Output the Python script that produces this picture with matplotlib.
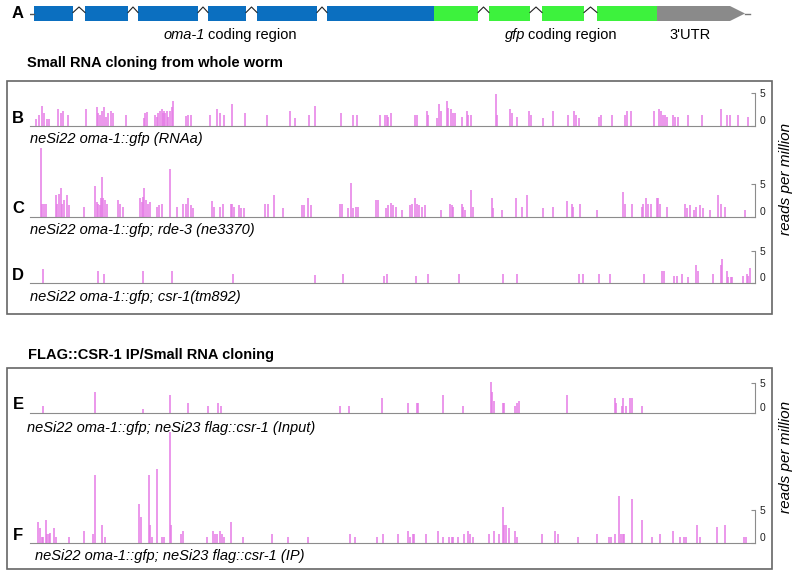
import numpy as np
import matplotlib
matplotlib.use('Agg')
import matplotlib.pyplot as plt
from matplotlib.patches import Rectangle, Polygon

plt.rcParams['font.family'] = ['Liberation Sans', 'DejaVu Sans']

# gene model (position along transcript, length)
oma_exons = [(0, 39), (51, 43), (104, 60), (174, 38), (223, 60), (293, 107)]
gfp_exons = [(400, 44), (455, 41), (508, 42), (563, 60)]
utr_start, utr_end = 623, 711
gene_end = 716

# small RNA reads: (position, reads per million)
b_bars = [(2, 1.0), (5, 1.7), (8, 3.0), (10, 1.9), (13, 1.1), (15, 1.1), (24, 2.5), (27, 1.9), (29, 2.2),
          (34, 1.7), (52, 2.5), (63, 2.9), (64, 1.9), (66, 1.7), (68, 2.2), (70, 2.9), (72, 1.4), (74, 1.9),
          (77, 2.2), (79, 1.9), (92, 1.7), (110, 1.2), (111, 1.9), (113, 2.1), (121, 1.7), (123, 1.4),
          (124, 1.9), (126, 2.2), (128, 2.5), (129, 1.9), (130, 2.2), (131, 1.9), (133, 2.2), (134, 1.4),
          (136, 2.2), (138, 2.9), (139, 3.8), (152, 1.5), (154, 1.7), (157, 1.7), (176, 1.7), (183, 2.5),
          (186, 1.9), (190, 1.7), (198, 3.4), (211, 1.9), (233, 1.7), (256, 2.2), (261, 1.2), (275, 1.7),
          (281, 3.0), (307, 2.0), (319, 1.7), (323, 1.7), (346, 1.7), (351, 1.7), (353, 1.7), (354, 1.4),
          (357, 1.9), (381, 1.7), (383, 1.7), (393, 2.2), (394, 1.7), (403, 1.2), (405, 3.4), (407, 2.2),
          (413, 3.8), (414, 2.7), (417, 2.5), (419, 1.9), (421, 1.9), (428, 1.4), (433, 2.2), (434, 1.7),
          (437, 1.7), (462, 4.8), (463, 1.7), (476, 2.5), (478, 1.9), (483, 1.4), (495, 2.2), (497, 1.7),
          (509, 1.2), (519, 2.2), (534, 1.7), (540, 2.2), (542, 1.7), (545, 1.2), (565, 1.4), (567, 1.7),
          (578, 1.7), (591, 1.7), (593, 2.2), (597, 2.2), (620, 2.2), (625, 2.5), (627, 2.2), (629, 1.7),
          (631, 1.7), (633, 1.4), (639, 1.7), (641, 1.4), (644, 1.4), (654, 1.7), (668, 1.7), (687, 2.5),
          (693, 1.7), (696, 1.7), (704, 1.7), (714, 1.4)]

c_bars = [(7, 10.4), (8, 2.0), (10, 2.0), (12, 2.0), (22, 3.3), (23, 2.0), (25, 3.5), (27, 4.3), (28, 2.0),
          (30, 2.5), (33, 3.3), (35, 1.8), (50, 1.5), (61, 4.6), (63, 2.3), (64, 2.0), (66, 1.8), (67, 2.8),
          (68, 6.0), (69, 2.8), (71, 2.5), (73, 2.0), (84, 2.5), (86, 2.0), (89, 1.5), (106, 2.8), (108, 2.3),
          (109, 3.0), (110, 4.3), (112, 2.5), (114, 2.0), (116, 2.3), (123, 1.5), (125, 1.8), (128, 2.0),
          (136, 7.3), (143, 1.5), (149, 2.0), (152, 2.0), (154, 2.9), (157, 1.8), (159, 1.3), (178, 2.4),
          (180, 1.5), (186, 1.5), (189, 2.0), (197, 1.9), (198, 1.9), (200, 1.5), (205, 1.8), (207, 1.3),
          (210, 1.3), (231, 2.0), (234, 2.0), (240, 3.3), (249, 1.3), (268, 1.8), (270, 1.8), (274, 2.9),
          (277, 1.8), (306, 2.0), (308, 2.0), (314, 1.3), (317, 5.1), (319, 1.3), (322, 1.5), (324, 1.5),
          (342, 2.5), (344, 2.5), (352, 1.3), (354, 1.8), (357, 2.1), (359, 1.8), (362, 1.5), (368, 1.0),
          (376, 1.8), (378, 2.0), (381, 2.8), (383, 2.0), (385, 1.8), (388, 1.5), (391, 1.8), (407, 1.0),
          (416, 2.0), (418, 1.8), (419, 1.5), (428, 1.9), (429, 1.5), (431, 1.0), (437, 4.1), (439, 1.5),
          (458, 2.9), (459, 1.3), (468, 1.0), (482, 2.9), (488, 1.5), (493, 3.3), (509, 1.3), (519, 1.5),
          (533, 2.4), (538, 2.0), (539, 1.5), (546, 1.9), (563, 1.0), (589, 3.7), (591, 1.9), (598, 1.9),
          (608, 1.5), (609, 2.0), (612, 2.9), (614, 2.0), (617, 2.0), (623, 2.8), (624, 2.9), (626, 2.0),
          (633, 1.5), (651, 1.9), (653, 1.3), (656, 1.8), (660, 1.0), (662, 1.5), (666, 1.8), (669, 1.3),
          (676, 1.0), (684, 3.3), (687, 2.0), (691, 1.5), (711, 1.0)]

d_bars = [(9, 2.3), (64, 2.0), (70, 1.5), (109, 2.0), (138, 2.0), (199, 1.4), (281, 1.3), (309, 1.5),
          (350, 1.1), (353, 1.4), (382, 1.1), (394, 1.5), (425, 1.5), (469, 1.5), (483, 1.5), (545, 1.5),
          (549, 1.5), (565, 1.5), (576, 1.5), (610, 1.5), (628, 2.0), (630, 2.0), (640, 1.1), (643, 1.1),
          (648, 1.5), (654, 1.0), (662, 2.9), (664, 2.0), (679, 1.5), (687, 2.9), (688, 3.8), (693, 2.0),
          (694, 1.0), (697, 1.0), (698, 1.0), (709, 1.1), (713, 1.5), (714, 1.1), (716, 2.4)]

e_bars = [(9, 1.2), (61, 3.4), (109, 0.7), (136, 3.0), (154, 1.7), (174, 1.2), (184, 1.7), (187, 1.2),
          (306, 1.2), (315, 1.2), (348, 2.5), (374, 1.7), (383, 1.7), (384, 1.7), (409, 3.0), (429, 1.2),
          (457, 5.2), (458, 3.4), (460, 2.0), (469, 1.7), (470, 1.7), (481, 1.2), (483, 1.7), (485, 2.0),
          (533, 3.0), (581, 2.5), (582, 1.7), (588, 1.2), (589, 2.5), (592, 1.2), (596, 2.5), (598, 2.5),
          (608, 1.2)]

f_bars = [(4, 3.3), (6, 2.3), (8, 1.0), (9, 1.0), (12, 3.6), (13, 1.4), (15, 1.4), (16, 1.5), (20, 2.3),
          (22, 1.0), (35, 0.9), (50, 1.9), (59, 1.4), (61, 10.4), (68, 2.8), (71, 1.0), (105, 5.9), (107, 4.0),
          (115, 10.4), (116, 2.8), (118, 1.0), (123, 11.2), (128, 1.0), (130, 1.0), (136, 16.8), (137, 2.8),
          (147, 1.4), (149, 1.9), (173, 0.9), (179, 1.9), (181, 1.4), (183, 1.4), (186, 1.9), (188, 1.4),
          (190, 1.0), (197, 3.3), (209, 0.9), (238, 1.4), (254, 0.9), (274, 0.9), (316, 1.4), (321, 0.9),
          (343, 0.9), (349, 1.4), (364, 1.4), (374, 1.9), (376, 1.0), (379, 1.4), (380, 1.4), (392, 1.4),
          (404, 1.9), (409, 0.9), (415, 0.9), (418, 0.9), (419, 0.9), (424, 0.9), (430, 1.4), (434, 1.9),
          (436, 1.4), (439, 1.0), (455, 1.4), (460, 1.9), (465, 1.4), (469, 5.5), (470, 2.8), (472, 2.8),
          (475, 2.3), (481, 1.9), (483, 1.0), (508, 1.4), (521, 1.9), (524, 1.4), (544, 0.9), (563, 1.4),
          (575, 0.9), (577, 0.9), (581, 1.4), (585, 7.2), (587, 1.4), (589, 1.4), (590, 1.4), (598, 6.7),
          (608, 3.6), (618, 1.0), (626, 1.4), (639, 1.9), (646, 1.0), (650, 1.0), (652, 1.0), (663, 2.8),
          (666, 1.0), (683, 2.4), (691, 2.8), (710, 0.9), (712, 0.9)]

track_letters = ['B', 'C', 'D', 'E', 'F']
track_names = ['neSi22 oma-1::gfp (RNAa)',
               'neSi22 oma-1::gfp; rde-3 (ne3370)',
               'neSi22 oma-1::gfp; csr-1(tm892)',
               'neSi22 oma-1::gfp; neSi23 flag::csr-1 (Input)',
               'neSi22 oma-1::gfp; neSi23 flag::csr-1 (IP)']
tracks = [b_bars, c_bars, d_bars, e_bars, f_bars]

W, H = 800, 577
fig = plt.figure(figsize=(W / 100, H / 100), dpi=100)


def fx(px):
    return px / W


def fy(py):
    return 1 - py / H


blue = '#0b6fc0'
green = '#3df23d'
grey_utr = '#8a8a8a'
pink = '#e57be6'
line_grey = '#8c8c8c'

# ---- panel A: gene model
ga = fig.add_axes([fx(30), fy(26), fx(755) - fx(30), 22 / H])
ga.set_xlim(-4, 721)
ga.set_ylim(0, 22)
ga.axis('off')
ga.broken_barh(oma_exons, (5, 15), facecolors=blue)
ga.broken_barh(gfp_exons, (5, 15), facecolors=green)
mid = 12.5
ga.add_patch(Polygon([(utr_start, 5), (utr_end - 15, 5), (utr_end, mid), (utr_end - 15, 20), (utr_start, 20)],
                     closed=True, facecolor=grey_utr, edgecolor='none'))
ga.plot([utr_end, gene_end], [mid, mid], color='#777777', lw=1)
ga.plot([-4, 0], [mid, mid], color='#555555', lw=1)
exons = oma_exons + gfp_exons
for (s1, l1), (s2, l2) in zip(exons[:-1], exons[1:]):
    e1 = s1 + l1
    if s2 > e1:
        ga.plot([e1, (e1 + s2) / 2, s2], [mid + 1, 19, mid + 1], color='#222222', lw=0.8)

fig.text(fx(18), fy(14), 'A', fontsize=12, fontweight='bold', ha='center', va='center')
fig.text(fx(205), fy(35), 'oma-1', fontsize=10.5, style='italic', ha='right', va='center')
fig.text(fx(208.5), fy(35), 'coding region', fontsize=10.5, ha='left', va='center')
fig.text(fx(525), fy(35), 'gfp', fontsize=10.5, style='italic', ha='right', va='center')
fig.text(fx(528.5), fy(35), 'coding region', fontsize=10.5, ha='left', va='center')
fig.text(fx(690), fy(35), "3'UTR", fontsize=10.5, ha='center', va='center')

# ---- headings and boxes
fig.text(fx(27), fy(63), 'Small RNA cloning from whole worm', fontsize=10.5, fontweight='bold',
         ha='left', va='center')
fig.text(fx(28), fy(355), 'FLAG::CSR-1 IP/Small RNA cloning', fontsize=10.5, fontweight='bold',
         ha='left', va='center')
for top, bottom in [(81, 314), (368, 569)]:
    fig.patches.append(Rectangle((fx(7), fy(bottom)), fx(772) - fx(7), fy(top) - fy(bottom),
                                 transform=fig.transFigure, fill=False, edgecolor='#666666', lw=1.2))

# ---- read tracks
baselines = [126, 216.7, 283.3, 412.7, 543.3]
scale_px = [33, 33, 32, 30, 33]
label_y = [138.5, 230, 297, 428, 556]
label_x = [30, 30, 30, 27, 35]

for bars, letter, name, yb, sp, ly, lx in zip(tracks, track_letters, track_names,
                                               baselines, scale_px, label_y, label_x):
    ax = fig.add_axes([fx(30), fy(yb), fx(755) - fx(30), sp / H])
    ax.set_xlim(-4, 721)
    ax.set_ylim(0, 5)
    pos = [p for p, v in bars]
    val = [v for p, v in bars]
    ax.vlines(pos, 0, val, colors=pink, linewidth=1.1, clip_on=False)
    ax.patch.set_visible(False)
    for s in ['top', 'left']:
        ax.spines[s].set_visible(False)
    ax.spines['bottom'].set_color(line_grey)
    ax.spines['bottom'].set_zorder(3)
    ax.spines['right'].set_color(line_grey)
    ax.spines['right'].set_linewidth(0.8)
    ax.set_xticks([])
    ax.yaxis.tick_right()
    ax.set_yticks([0, 5])
    ax.set_yticklabels(['0', '5'])
    ax.tick_params(axis='y', direction='in', length=3, width=0.8, colors=line_grey,
                   labelcolor='#222222', labelsize=7.5, pad=3)
    ax.get_yticklabels()[0].set_va('bottom')
    fig.text(fx(18), fy(yb - 8), letter, fontsize=12, fontweight='bold', ha='center', va='center')
    fig.text(fx(lx), fy(ly), name, fontsize=10.5, style='italic', ha='left', va='center')

fig.text(fx(786), fy(179), 'reads per million', fontsize=11, style='italic', rotation=90,
         ha='center', va='center')
fig.text(fx(786), fy(457), 'reads per million', fontsize=11, style='italic', rotation=90,
         ha='center', va='center')

fig.savefig('out.png', dpi=100)
